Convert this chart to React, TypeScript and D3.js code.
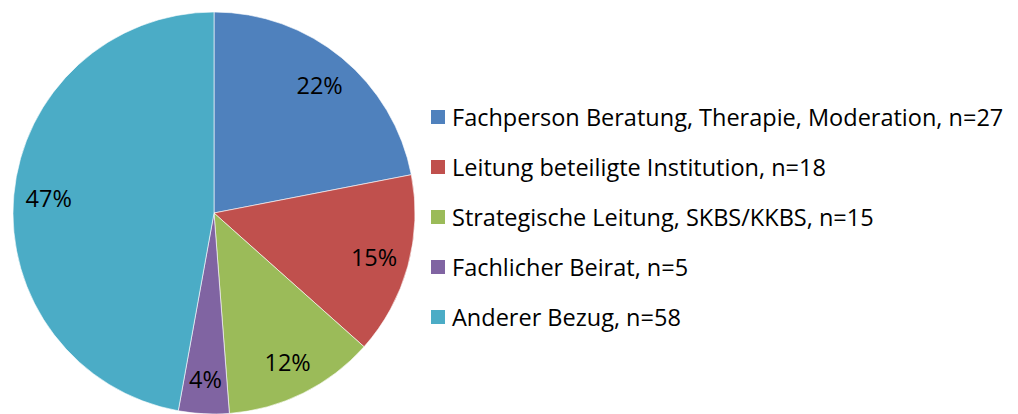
import React from 'react';
import * as d3 from 'd3';

const categories = [
  'Fachperson Beratung, Therapie, Moderation',
  'Leitung beteiligte Institution',
  'Strategische Leitung, SKBS/KKBS',
  'Fachlicher Beirat',
  'Anderer Bezug',
];
const counts = [27, 18, 15, 5, 58];
const percentLabels = ['22%', '15%', '12%', '4%', '47%'];
const colors = ['#4F81BD', '#C0504D', '#9BBB59', '#8064A2', '#4BACC6'];

const W = 1018;
const H = 414;
const CX = 214;
const CY = 213;
const R = 201;
const FONT = '"Open Sans", "Noto Sans", sans-serif';
const FONT_SIZE = 23.5;

const App: React.FC = () => {
  const pie = d3
    .pie<number>()
    .sort(null)
    .value((d) => d);
  const arcs = pie(counts);
  const arc = d3.arc<d3.PieArcDatum<number>>().innerRadius(0).outerRadius(R);
  const labelArc = d3.arc<d3.PieArcDatum<number>>().innerRadius(166).outerRadius(166);

  const legendY = d3
    .scalePoint<string>()
    .domain(categories)
    .range([117, 317]);

  return (
    <svg
      width={W}
      height={H}
      style={{ position: 'absolute', left: 0, top: 0, background: '#fff' }}
      fontFamily={FONT}
    >
      <g transform={`translate(${CX},${CY})`}>
        {arcs.map((a, i) => (
          <path key={i} d={arc(a) ?? ''} fill={colors[i]} stroke='#fff' strokeWidth={0.6} />
        ))}
        {arcs.map((a, i) => {
          const [x, y] = labelArc.centroid(a);
          return (
            <text
              key={i}
              x={x}
              y={y}
              textAnchor='middle'
              dominantBaseline='central'
              fontSize={FONT_SIZE}
              fill='#000'
            >
              {percentLabels[i]}
            </text>
          );
        })}
      </g>
      <g>
        {categories.map((c, i) => {
          const y = legendY(c) ?? 0;
          return (
            <g key={c}>
              <rect x={431} y={y - 7} width={14} height={14} fill={colors[i]} />
              <text x={452} y={y} dominantBaseline='central' fontSize={FONT_SIZE} fill='#000'>
                {`${c}, n=${counts[i]}`}
              </text>
            </g>
          );
        })}
      </g>
    </svg>
  );
};

export default App;
